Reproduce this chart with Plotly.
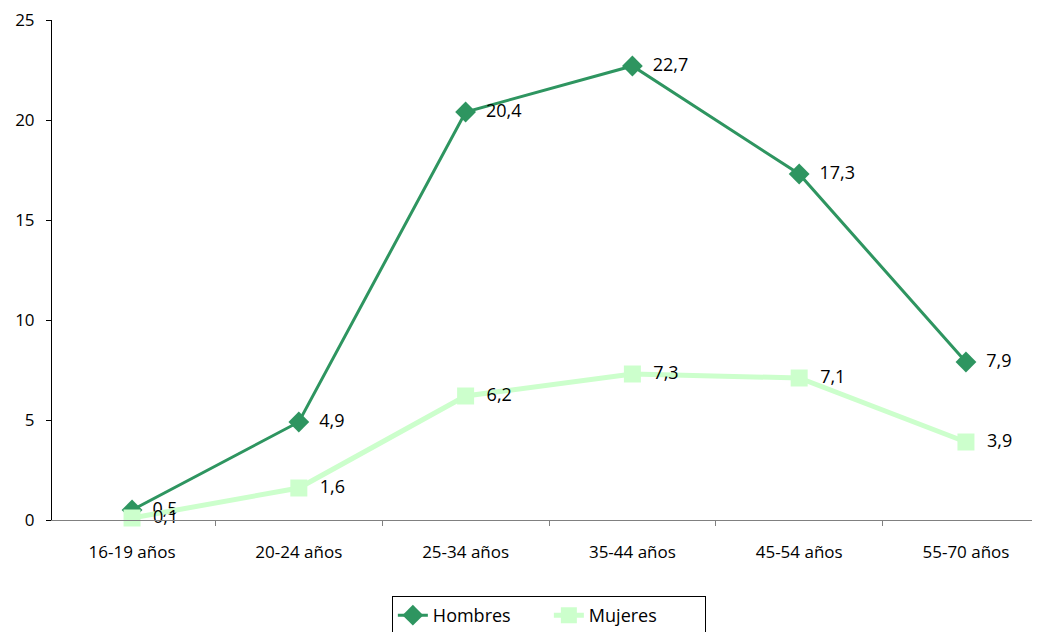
import plotly.graph_objects as go

categories = ["16-19 años", "20-24 años", "25-34 años", "35-44 años", "45-54 años", "55-70 años"]
hombres = [0.5, 4.9, 20.4, 22.7, 17.3, 7.9]
mujeres = [0.1, 1.6, 6.2, 7.3, 7.1, 3.9]

def fmt(v):
    return "  " + f"{v:.1f}".replace(".", ",")

fig = go.Figure()
fig.add_trace(go.Scatter(
    x=categories, y=hombres, name="Hombres", mode="lines+markers+text",
    line=dict(color="#2E9560", width=3),
    marker=dict(symbol="diamond", size=16, color="#2E9560"),
    text=[fmt(v) for v in hombres], textposition="middle right",
    textfont=dict(family="Open Sans", size=18, color="black"),
    cliponaxis=False,
))
fig.add_trace(go.Scatter(
    x=categories, y=mujeres, name="Mujeres", mode="lines+markers+text",
    line=dict(color="#CCFFCC", width=5),
    marker=dict(symbol="square", size=17, color="#CCFFCC"),
    text=[fmt(v) for v in mujeres], textposition="middle right",
    textfont=dict(family="Open Sans", size=18, color="black"),
    cliponaxis=False,
))

fig.update_layout(
    width=1024, height=624,
    margin=dict(l=44, r=0, t=12, b=112),
    plot_bgcolor="white", paper_bgcolor="white",
    font=dict(family="Open Sans", size=17, color="black"),
    showlegend=True,
    legend=dict(orientation="h", x=0.507, xanchor="center",
                yref="container", y=0.0577, yanchor="top",
                bordercolor="black", borderwidth=1, font=dict(size=18),
                traceorder="normal", entrywidth=111, entrywidthmode="pixels"),
    xaxis=dict(type="category", range=[-0.48, 5.396], showline=True, linecolor="#808080",
               linewidth=1, ticks="outside", tickson="boundaries", ticklen=5,
               tickcolor="#808080", showgrid=False, zeroline=False, automargin=False,
               ticklabelstandoff=17),
    yaxis=dict(range=[0, 25], dtick=5, showline=True, linecolor="black", linewidth=1,
               ticks="outside", ticklen=5, tickcolor="black", showgrid=False,
               zeroline=False, ticklabelstandoff=8, automargin=False,
               ticklabeloverflow="allow"),
)
fig.write_html("out.html")
